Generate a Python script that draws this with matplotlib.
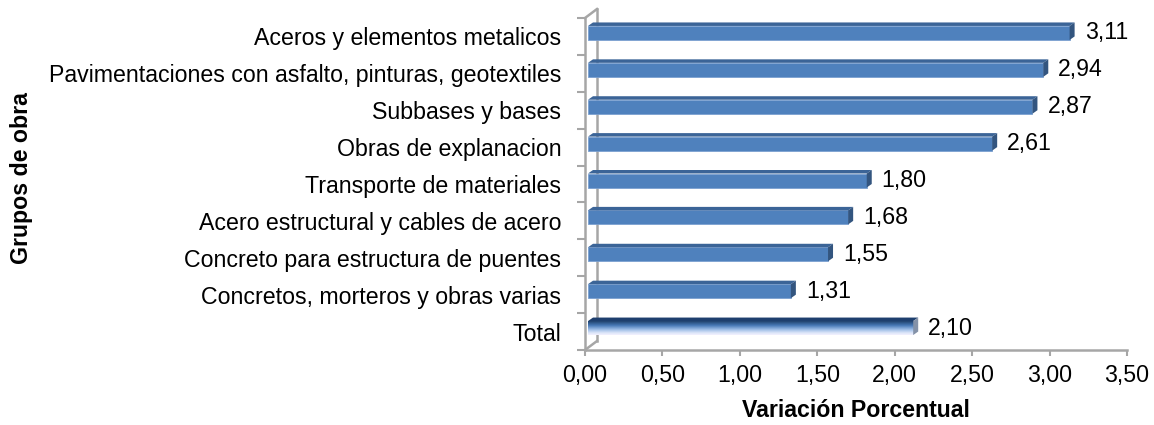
import numpy as np
import matplotlib
matplotlib.use("Agg")
import matplotlib.pyplot as plt
from matplotlib.patches import Polygon
from matplotlib.colors import LinearSegmentedColormap

plt.rcParams['font.family'] = ['Liberation Sans', 'DejaVu Sans']

# Data (bottom to top)
categories = ["Total",
              "Concretos, morteros y obras varias",
              "Concreto para estructura de puentes",
              "Acero estructural y cables de acero",
              "Transporte de materiales",
              "Obras de explanacion",
              "Subbases y bases",
              "Pavimentaciones con asfalto, pinturas, geotextiles",
              "Aceros y elementos metalicos"]
values = [2.10, 1.31, 1.55, 1.68, 1.80, 2.61, 2.87, 2.94, 3.11]
xticks = [0.0, 0.5, 1.0, 1.5, 2.0, 2.5, 3.0, 3.5]

FS = 16.7
W, H = 1154, 425
fig = plt.figure(figsize=(W / 100, H / 100), dpi=100)
ax_l, ax_r, ax_t, ax_b = 585, 1127, 18, 350
ax = fig.add_axes([ax_l / W, 1 - ax_b / H, (ax_r - ax_l) / W, (ax_b - ax_t) / H])

XMAX = 3.5
n = len(categories)

# pixel -> data conversion for the fake 3D depth
pxx = XMAX / (ax_r - ax_l)
pxy = n / (ax_b - ax_t)

grey = "#A6A6A6"

# back wall / floor edge
wdx, wdy = 12 * pxx, 9 * pxy
ax.plot([wdx, wdx], [-0.5 + wdy, n - 0.5 + wdy], color=grey, lw=1.8, clip_on=False, zorder=1)
ax.plot([0, wdx], [n - 0.5, n - 0.5 + wdy], color=grey, lw=1.8, clip_on=False, zorder=1)
ax.plot([0, wdx], [-0.5, -0.5 + wdy], color=grey, lw=1.8, clip_on=False, zorder=1)

# bar geometry
fx, fy = 3 * pxx, 3.5 * pxy      # front face shift
ddx, ddy = 5 * pxx, 3.5 * pxy    # bar depth
bh = 14 * pxy                    # front face height

ypos = np.arange(n)
blue = "#4F81BD"
top_col = "#3B6497"
side_col = "#33557F"

total_cmap = LinearSegmentedColormap.from_list(
    "tot", [(0.0, "#22446F"), (0.3, "#4677B5"), (0.6, "#9BBBE6"), (0.85, "#DCE6F8"), (1.0, "#F3F1FF")])

for i, (y, v) in enumerate(zip(ypos, values)):
    yb = y + fy - bh / 2
    yt = y + fy + bh / 2
    x0 = fx
    x1 = fx + v
    if i == 0:
        grad = np.linspace(0, 1, 50).reshape(-1, 1)
        ax.imshow(grad, cmap=total_cmap, extent=(x0, x1, yb, yt), aspect='auto',
                  origin='upper', zorder=3, interpolation='bilinear')
        tc, sc = "#1E3F6E", "#8492A8"
    else:
        ax.barh(y + fy, v, height=bh, left=x0, color=blue, edgecolor="#7BA0D0",
                linewidth=0.6, zorder=3)
        tc, sc = top_col, side_col
    ax.add_patch(Polygon([(x0, yt), (x1, yt), (x1 + ddx, yt + ddy), (x0 + ddx, yt + ddy)],
                         closed=True, facecolor=tc, edgecolor='none', zorder=3))
    ax.add_patch(Polygon([(x1, yb), (x1 + ddx, yb + ddy), (x1 + ddx, yt + ddy), (x1, yt)],
                         closed=True, facecolor=sc, edgecolor='none', zorder=3))
    ax.text(x1 + ddx + 10 * pxx, y + fy, f"{v:.2f}".replace(".", ","),
            va='center', ha='left', fontsize=FS, zorder=4)

ax.set_xlim(0, XMAX)
ax.set_ylim(-0.5, n - 0.5)

# axes styling
for s in ["top", "right"]:
    ax.spines[s].set_visible(False)
for s in ["left", "bottom"]:
    ax.spines[s].set_color(grey)
    ax.spines[s].set_linewidth(1.8)

ax.set_xticks(xticks)
ax.set_xticklabels([f"{t:.2f}".replace(".", ",") for t in xticks], fontsize=FS)
ax.tick_params(axis='x', direction='out', length=4, width=1.5, color=grey, pad=6)

ax.set_yticks(ypos)
ax.set_yticklabels(categories, fontsize=FS)
ax.tick_params(axis='y', which='major', length=0, pad=17)
ax.set_yticks(np.arange(-0.5, n, 1.0), minor=True)
ax.tick_params(axis='y', which='minor', direction='out', length=6, width=1.5, color=grey)

ax.set_xlabel("Variación Porcentual", fontsize=FS, fontweight='bold', labelpad=9)
fig.text(22 / W, 1 - 178 / H, "Grupos de obra", rotation=90, ha='center', va='center',
         fontsize=FS, fontweight='bold')

fig.savefig("out.png", dpi=100)
